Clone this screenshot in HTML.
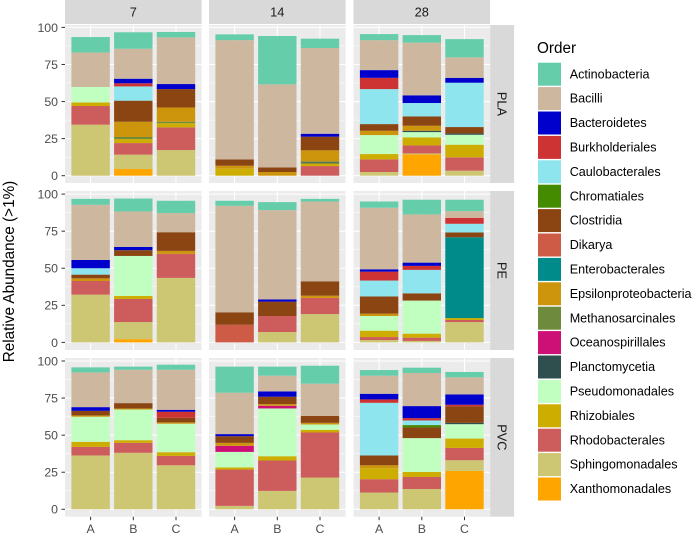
<!DOCTYPE html>
<html lang="en">
<head>
<meta charset="utf-8">
<title>Relative Abundance by Order</title>
<style>
html,body{margin:0;padding:0;background:#fff;width:697px;height:539px;overflow:hidden}
svg{display:block;font-family:"Liberation Sans",Arial,sans-serif}
</style>
</head>
<body>
<svg id="chart" xmlns="http://www.w3.org/2000/svg" width="697" height="539" viewBox="0 0 697 539"></svg>
<script>
// Facet and sample categories (values run PLA 7 A,B,C / 14 / 28, then PE, then PVC)
const polymers = ["PLA", "PE", "PVC"];
const days = ["7", "14", "28"];
const samples = ["A", "B", "C"];
const yTicks = [0, 25, 50, 75, 100];
const yMinor = [12.5, 37.5, 62.5, 87.5];

// Series values, one per bar
const Actinobacteria = [10.4,11.1,3.6, 3.9,32.6,6.3, 4.1,5.1,12.3, 4,8.7,8.3, 3.4,5.4,1.8, 4.2,9.9,7.7, 3.4,2.1,3.4, 17.6,6.1,12.1, 3.8,3.6,3.6];
const Bacilli = [23.3,20.2,31.5, 80.4,56,57.8, 20.2,35.5,13.8, 37.2,23.9,12.9, 71.8,60.2,53.8, 41.5,32.5,4.5, 23.4,22.5,27, 27.9,10.6,21.7, 12.2,22.3,11.5];
const Bacteroidetes = [0,3.1,3.4, 0,0,2, 5.2,5.2,3.3, 5.6,2.2,0, 0,1.5,0, 1.6,2.2,0, 2.5,0,1.3, 1.4,3.6,0, 3.8,8.1,7];
const Burkholderiales = [0,2.1,0, 0,0,0, 7.6,0,0, 0,0,0, 0,0,0, 6,2.7,4, 0,0,4.1, 0,0,0, 2.3,1.6,1.1];
const Caulobacterales = [0,9.6,0, 0,0,0, 23.6,9,29.9, 4.3,0,0, 0,0,0, 10.7,15.8,5.9, 0,0,0, 0,0,0, 35.5,3.1,0];
const Chromatiales = [0,0,0, 0,0,0, 0,0,0, 0,0,0, 0,0,0, 0,0,0, 0,0,0, 0,0,0, 0,1.6,0];
const Clostridia = [0,14.2,12.4, 4.3,3.1,9.2, 4.5,6.3,4.3, 2.5,3.9,12.6, 8.4,9.7,9.7, 11.6,4.9,3.2, 3.1,3.6,3.1, 4.5,5,4.7, 6.6,7.2,11.1];
const Dikarya = [0,0,0, 0,0,0, 0,0,0, 0,0,0, 11.9,0,0, 0,0,0, 0,0,0, 0,0,0, 0,0,0];
const Enterobacterales = [0,0,0, 0,0,0, 0,0,0, 0,0,0, 0,0,0, 0,0,54.5, 0,0,0, 0,0,0, 0,0,0];
const Epsilonproteobacteria = [0,10.3,9.6, 2,2.5,7.4, 2.9,3.4,0, 1.8,0,2, 0,0,1.5, 1.6,0,0, 0.9,0.7,0.9, 2,1.1,1.1, 2,0,0];
const Methanosarcinales = [0,1.4,1, 0,0,0.7, 0,0,0, 0,0,0, 0,0,0, 0,0,0, 0,0,0, 0,0,0, 0,0,0];
const Oceanospirillales = [0,0,0, 0,0,0, 0,0,0, 0,0,0, 0,0,0, 0,0,0, 0,0,0, 4.1,1.8,0, 0,0,0];
const Planctomycetia = [0,0,0, 0,0,0.7, 0,0.9,0.9, 0,0,0, 0,0,0, 0,0,0, 0,0,0, 0,0,0, 0,0,0.9];
const Pseudomonadales = [10.4,0,0, 0,0,0, 12.8,3.6,6.7, 0,27,0, 0,0,0, 9.9,22.3,0, 16.9,20.7,19.2, 10.5,32.2,3.6, 0,22.8,9.7];
const Rhizobiales = [2.4,2.7,2.8, 4.7,0,1.8, 3.6,5.4,8.5, 0,2,0, 0,0,0, 4.3,2.7,1.3, 3.4,1.8,2.5, 1.4,2.9,1.8, 7.4,3.4,6.3];
const Rhodobacterales = [12.6,7.8,15.3, 0,0,6.5, 8.5,5.4,9, 9.2,15.6,16.2, 0,10.8,10.9, 2,2.2,1.4, 5.8,6.7,6.3, 24.5,20.5,30.4, 9,8.1,8.3];
const Sphingomonadales = [34.4,9.7,17.3, 0,0,0, 2.5,0.6,3.4, 32.2,11.5,43.5, 0,7,19.1, 1.6,1,13.7, 36.3,38.1,29.7, 2.3,12.4,21.4, 11.3,13.7,7.2];
const Xanthomonadales = [0,4.5,0, 0,0,0, 0,14.4,0, 0,2.2,0, 0,0,0, 0,0,0, 0,0,0, 0,0,0, 0,0,25.9];

// Legend order (stacks are drawn from the last entry upward)
const orderNames = ["Actinobacteria","Bacilli","Bacteroidetes","Burkholderiales","Caulobacterales","Chromatiales","Clostridia","Dikarya","Enterobacterales","Epsilonproteobacteria","Methanosarcinales","Oceanospirillales","Planctomycetia","Pseudomonadales","Rhizobiales","Rhodobacterales","Sphingomonadales","Xanthomonadales"];
const orderValues = [Actinobacteria,Bacilli,Bacteroidetes,Burkholderiales,Caulobacterales,Chromatiales,Clostridia,Dikarya,Enterobacterales,Epsilonproteobacteria,Methanosarcinales,Oceanospirillales,Planctomycetia,Pseudomonadales,Rhizobiales,Rhodobacterales,Sphingomonadales,Xanthomonadales];
const orderColors = ["#66CDAA","#CDB79E","#0000CD","#CD3333","#8EE5EE","#458B00","#8B4513","#CD5B45","#008B8B","#CD950C","#6E8B3D","#CD1076","#2F4F4F","#C1FFC1","#CDAD00","#CD5C5C","#CDC673","#FFA500"];

const svg = document.getElementById('chart');
const NS = 'http://www.w3.org/2000/svg';
function make(tag, attrs, text, parent) {
  const el = document.createElementNS(NS, tag);
  for (const k in attrs) el.setAttribute(k, attrs[k]);
  if (text !== undefined) el.textContent = text;
  (parent || svg).appendChild(el);
  return el;
}
const slug = s => s.toLowerCase();

// Layout
const panelLeft = [65, 209, 353.5];
const panelW = 136.6;
const panelTop = [25, 191, 358];
const panelH = [158, 159, 158.7];
const zeroY = [175.7, 342.4, 509.3];
const unitY = 1.483;
const bandW = panelW / 3.2;
const barW = bandW * 0.9;
const xCenter = (col, s) => panelLeft[col] + bandW * (0.6 + s);
const yScale = (row, v) => zeroY[row] - v * unitY;

// Top strips
days.forEach((d, c) => {
  const strip = make('rect', {x: panelLeft[c], y: 0, width: panelW, height: 24, fill: '#D9D9D9'});
  
  
  const t = make('text', {x: panelLeft[c] + panelW / 2, y: 16.6, 'text-anchor': 'middle', 'font-size': 12.8, fill: '#1A1A1A'}, d);
  
  
});

// Right strips
polymers.forEach((p, r) => {
  const strip = make('rect', {x: panelLeft[2] + panelW, y: panelTop[r], width: 24, height: panelH[r], fill: '#D9D9D9'});
  
  
  const cx = panelLeft[2] + panelW + 12;
  const cy = panelTop[r] + panelH[r] / 2;
  const t = make('text', {x: cx, y: cy, 'text-anchor': 'middle', 'dominant-baseline': 'central', 'font-size': 12.8, fill: '#1A1A1A', transform: 'rotate(90 ' + cx + ' ' + cy + ')'}, p);
  
  
});

// Panels
polymers.forEach((p, r) => {
  days.forEach((d, c) => {
    const g = make('g', {});
    
    
    make('rect', {x: panelLeft[c], y: panelTop[r], width: panelW, height: panelH[r], fill: '#EBEBEB'}, undefined, g);
    yMinor.forEach(v => make('line', {x1: panelLeft[c], x2: panelLeft[c] + panelW, y1: yScale(r, v), y2: yScale(r, v), stroke: '#fff', 'stroke-width': 0.5}, undefined, g));
    yTicks.forEach(v => make('line', {x1: panelLeft[c], x2: panelLeft[c] + panelW, y1: yScale(r, v), y2: yScale(r, v), stroke: '#fff', 'stroke-width': 1.05}, undefined, g));
    samples.forEach((s, si) => make('line', {x1: xCenter(c, si), x2: xCenter(c, si), y1: panelTop[r], y2: panelTop[r] + panelH[r], stroke: '#fff', 'stroke-width': 1.05}, undefined, g));

    samples.forEach((s, si) => {
      const idx = r * 9 + c * 3 + si;
      const barGroup = make('g', {}, undefined, g);
      
      
      let cum = 0;
      for (let o = orderNames.length - 1; o >= 0; o--) {
        const v = orderValues[o][idx];
        if (!v) continue;
        const seg = make('rect', {
          x: xCenter(c, si) - barW / 2,
          y: yScale(r, cum + v),
          width: barW,
          height: v * unitY,
          fill: orderColors[o]
        }, undefined, barGroup);
        
        
        cum += v;
      }
    });
  });
});

// Y axes
polymers.forEach((p, r) => {
  yTicks.forEach(v => {
    const y = yScale(r, v);
    const tick = make('line', {x1: 61.5, x2: 65, y1: y, y2: y, stroke: '#333', 'stroke-width': 1});
    
    
    const lab = make('text', {x: 58, y: y + 4.4, 'text-anchor': 'end', 'font-size': 12.3, fill: '#4D4D4D'}, String(v));
    
    
  });
});

// X axes
days.forEach((d, c) => {
  samples.forEach((s, si) => {
    const x = xCenter(c, si);
    const tick = make('line', {x1: x, x2: x, y1: 516.7, y2: 520.2, stroke: '#333', 'stroke-width': 1});
    
    
    const lab = make('text', {x: x, y: 532.8, 'text-anchor': 'middle', 'font-size': 12.3, fill: '#4D4D4D'}, s);
    
    
  });
});

// Y axis title
const yTitle = make('text', {x: 0, y: 0, 'text-anchor': 'middle', 'font-size': 15.3, fill: '#000', transform: 'translate(14 271.5) rotate(-90)'}, 'Relative Abundance (>1%)');



// Legend
const legendTitle = make('text', {x: 537, y: 53, 'font-size': 15.3, fill: '#000'}, 'Order');


orderNames.forEach((n, i) => {
  const y = 62.7 + i * 24.4;
  const entry = make('g', {});
  
  
  make('rect', {x: 538, y: y, width: 23, height: 23, fill: orderColors[i]}, undefined, entry);
  make('text', {x: 569.7, y: y + 15.6, 'font-size': 12.6, fill: '#000'}, n, entry);
});
</script>
</body>
</html>
